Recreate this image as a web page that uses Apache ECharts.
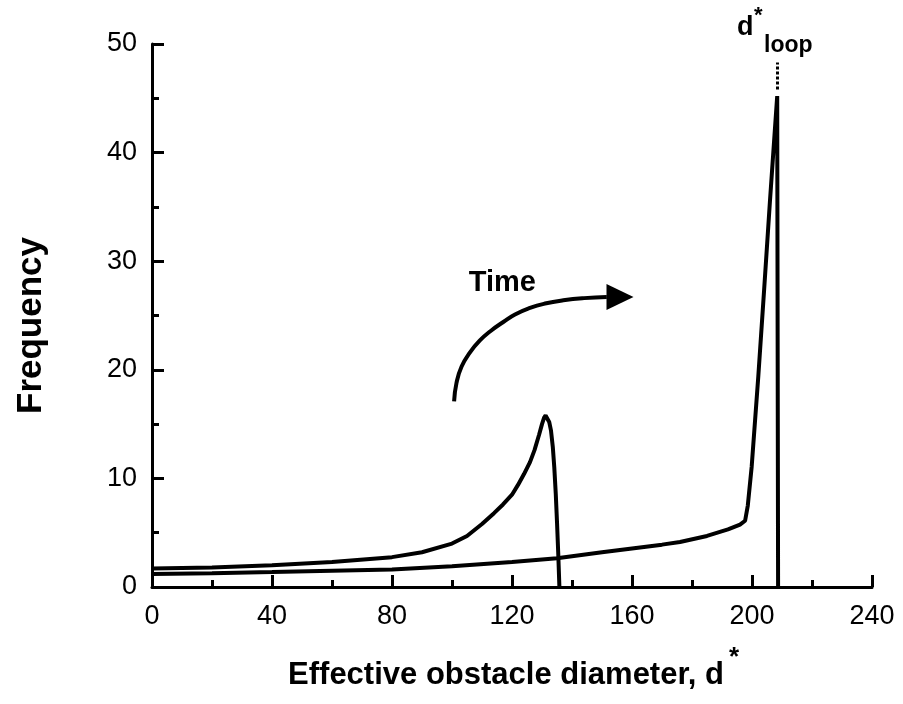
<!DOCTYPE html>
<html>
<head>
<meta charset="utf-8">
<script src="https://cdn.jsdelivr.net/npm/echarts@6/dist/echarts.min.js"></script>
<style>
html,body{margin:0;padding:0;background:#fff;}
#chart{width:903px;height:704px;}
</style>
</head>
<body>
<div id="chart"></div>
<script>
// ---- data ----
const xAxisTicks = [0, 40, 80, 120, 160, 200, 240];
const yAxisTicks = [0, 10, 20, 30, 40, 50];

// earlier-time distribution (peak near d* = 131)
const curveEarly = [
  [0, 1.7], [20, 1.8], [40, 2.0], [60, 2.3], [80, 2.75], [90, 3.2],
  [100, 4.0], [105, 4.7], [110, 5.8], [114, 6.8], [117, 7.6], [120, 8.5],
  [122, 9.4], [124, 10.4], [126, 11.5], [127.5, 12.6], [129, 14.0],
  [130, 15.0], [130.7, 15.6], [131.2, 15.8], [131.8, 15.7], [132.4, 15.2],
  [133, 14.4], [133.6, 12.9], [134.1, 11.0], [134.6, 8.5], [135, 6.0],
  [135.4, 3.2], [135.8, 0]
];

// later-time distribution (sharp peak at d*_loop)
const curveLate = [
  [0, 1.2], [20, 1.27], [40, 1.37], [60, 1.5], [80, 1.62], [100, 1.9],
  [120, 2.3], [135, 2.65], [150, 3.2], [160, 3.55], [170, 3.9], [176, 4.15],
  [185, 4.7], [192, 5.3], [196, 5.75], [197.7, 6.1], [198.6, 7.5],
  [199.9, 11.1], [202.1, 19.4], [204, 27.2], [206, 35.6], [207.5, 41.6],
  [208.4, 45.2], [208.7, 0]
];

// dotted marker above the peak
const loopMarker = [[208.5, 45.8], [208.5, 48.3]];

// "Time" arrow path
const timeArrow = [
  [100.7, 17.1], [101.5, 18.8], [103.2, 20.3], [106, 21.6], [109.3, 22.7],
  [113, 23.6], [117.1, 24.4], [121, 25.1], [126, 25.7], [131, 26.1],
  [137.1, 26.4], [144, 26.6], [151.6, 26.7]
];
const arrowHead = [[156, 26.7]];
const timeLabel = [[116.8, 28.0]];

const FONT = '"Liberation Sans", Arial, Helvetica, sans-serif';

const chart = echarts.init(document.getElementById('chart'), null, {renderer: 'canvas'});

const axisCommon = {
  axisLine: {show: true, onZero: false, lineStyle: {color: '#000', width: 3}},
  axisTick: {show: true, inside: true, length: 12, lineStyle: {color: '#000', width: 3}},
  minorTick: {show: true, splitNumber: 2, length: 7, lineStyle: {color: '#000', width: 3}},
  splitLine: {show: false},
  minorSplitLine: {show: false}
};

chart.setOption({
  animation: false,
  backgroundColor: '#fff',
  grid: {left: 152, right: 31, top: 44, bottom: 117, containLabel: false},
  xAxis: Object.assign({
    type: 'value',
    min: xAxisTicks[0],
    max: xAxisTicks[xAxisTicks.length - 1],
    interval: xAxisTicks[1] - xAxisTicks[0],
    name: 'Effective obstacle diameter, d',
    nameLocation: 'middle',
    nameGap: 73,
    nameTextStyle: {fontFamily: FONT, fontSize: 31, fontWeight: 'bold', color: '#000', padding: [0, 12, 0, 0]},
    axisLabel: {fontFamily: FONT, fontSize: 27, color: '#000', margin: 16}
  }, axisCommon),
  yAxis: Object.assign({
    type: 'value',
    min: yAxisTicks[0],
    max: yAxisTicks[yAxisTicks.length - 1],
    interval: yAxisTicks[1] - yAxisTicks[0],
    name: 'Frequency',
    nameLocation: 'middle',
    nameRotate: 90,
    nameGap: 103,
    nameTextStyle: {fontFamily: FONT, fontSize: 35, fontWeight: 'bold', color: '#000', padding: [0, 20, 0, 0]},
    axisLabel: {fontFamily: FONT, fontSize: 27, color: '#000', margin: 15}
  }, axisCommon),
  series: [
    {
      name: 'early', type: 'line', data: curveEarly, showSymbol: false, symbol: 'none',
      lineStyle: {color: '#000', width: 4}, z: 3
    },
    {
      name: 'late', type: 'line', data: curveLate, showSymbol: false, symbol: 'none',
      lineStyle: {color: '#000', width: 4}, z: 3
    },
    {
      name: 'loopMarker', type: 'line', data: loopMarker, showSymbol: false, symbol: 'none',
      lineStyle: {color: '#000', width: 3, type: [3, 2]}, z: 3
    },
    {
      name: 'timeArrow', type: 'line', data: timeArrow, showSymbol: false, symbol: 'none',
      smooth: true, lineStyle: {color: '#000', width: 4}, z: 3
    },
    {
      name: 'arrowHead', type: 'scatter', data: arrowHead, symbol: 'triangle',
      symbolSize: [26, 27], symbolRotate: -90, itemStyle: {color: '#000', opacity: 1}, z: 4
    },
    {
      name: 'timeLabel', type: 'scatter', data: timeLabel, symbolSize: 0,
      itemStyle: {opacity: 1},
      label: {show: true, position: 'inside', formatter: 'Time', fontFamily: FONT,
              fontSize: 29, fontWeight: 'bold', color: '#000'}, z: 4
    }
  ],
  graphic: [
    // asterisk of the x-axis title
    {type: 'text', left: 729, top: 645, style: {text: '*', font: 'bold 26px ' + FONT, fill: '#000'}},
    // d*_loop label
    {type: 'text', left: 737, top: 14, style: {text: 'd', font: 'bold 27px ' + FONT, fill: '#000'}},
    {type: 'text', left: 754, top: 5, style: {text: '*', font: 'bold 22px ' + FONT, fill: '#000'}},
    {type: 'text', left: 764, top: 34, style: {text: 'loop', font: 'bold 23px ' + FONT, fill: '#000'}}
  ]
});
</script>
</body>
</html>
